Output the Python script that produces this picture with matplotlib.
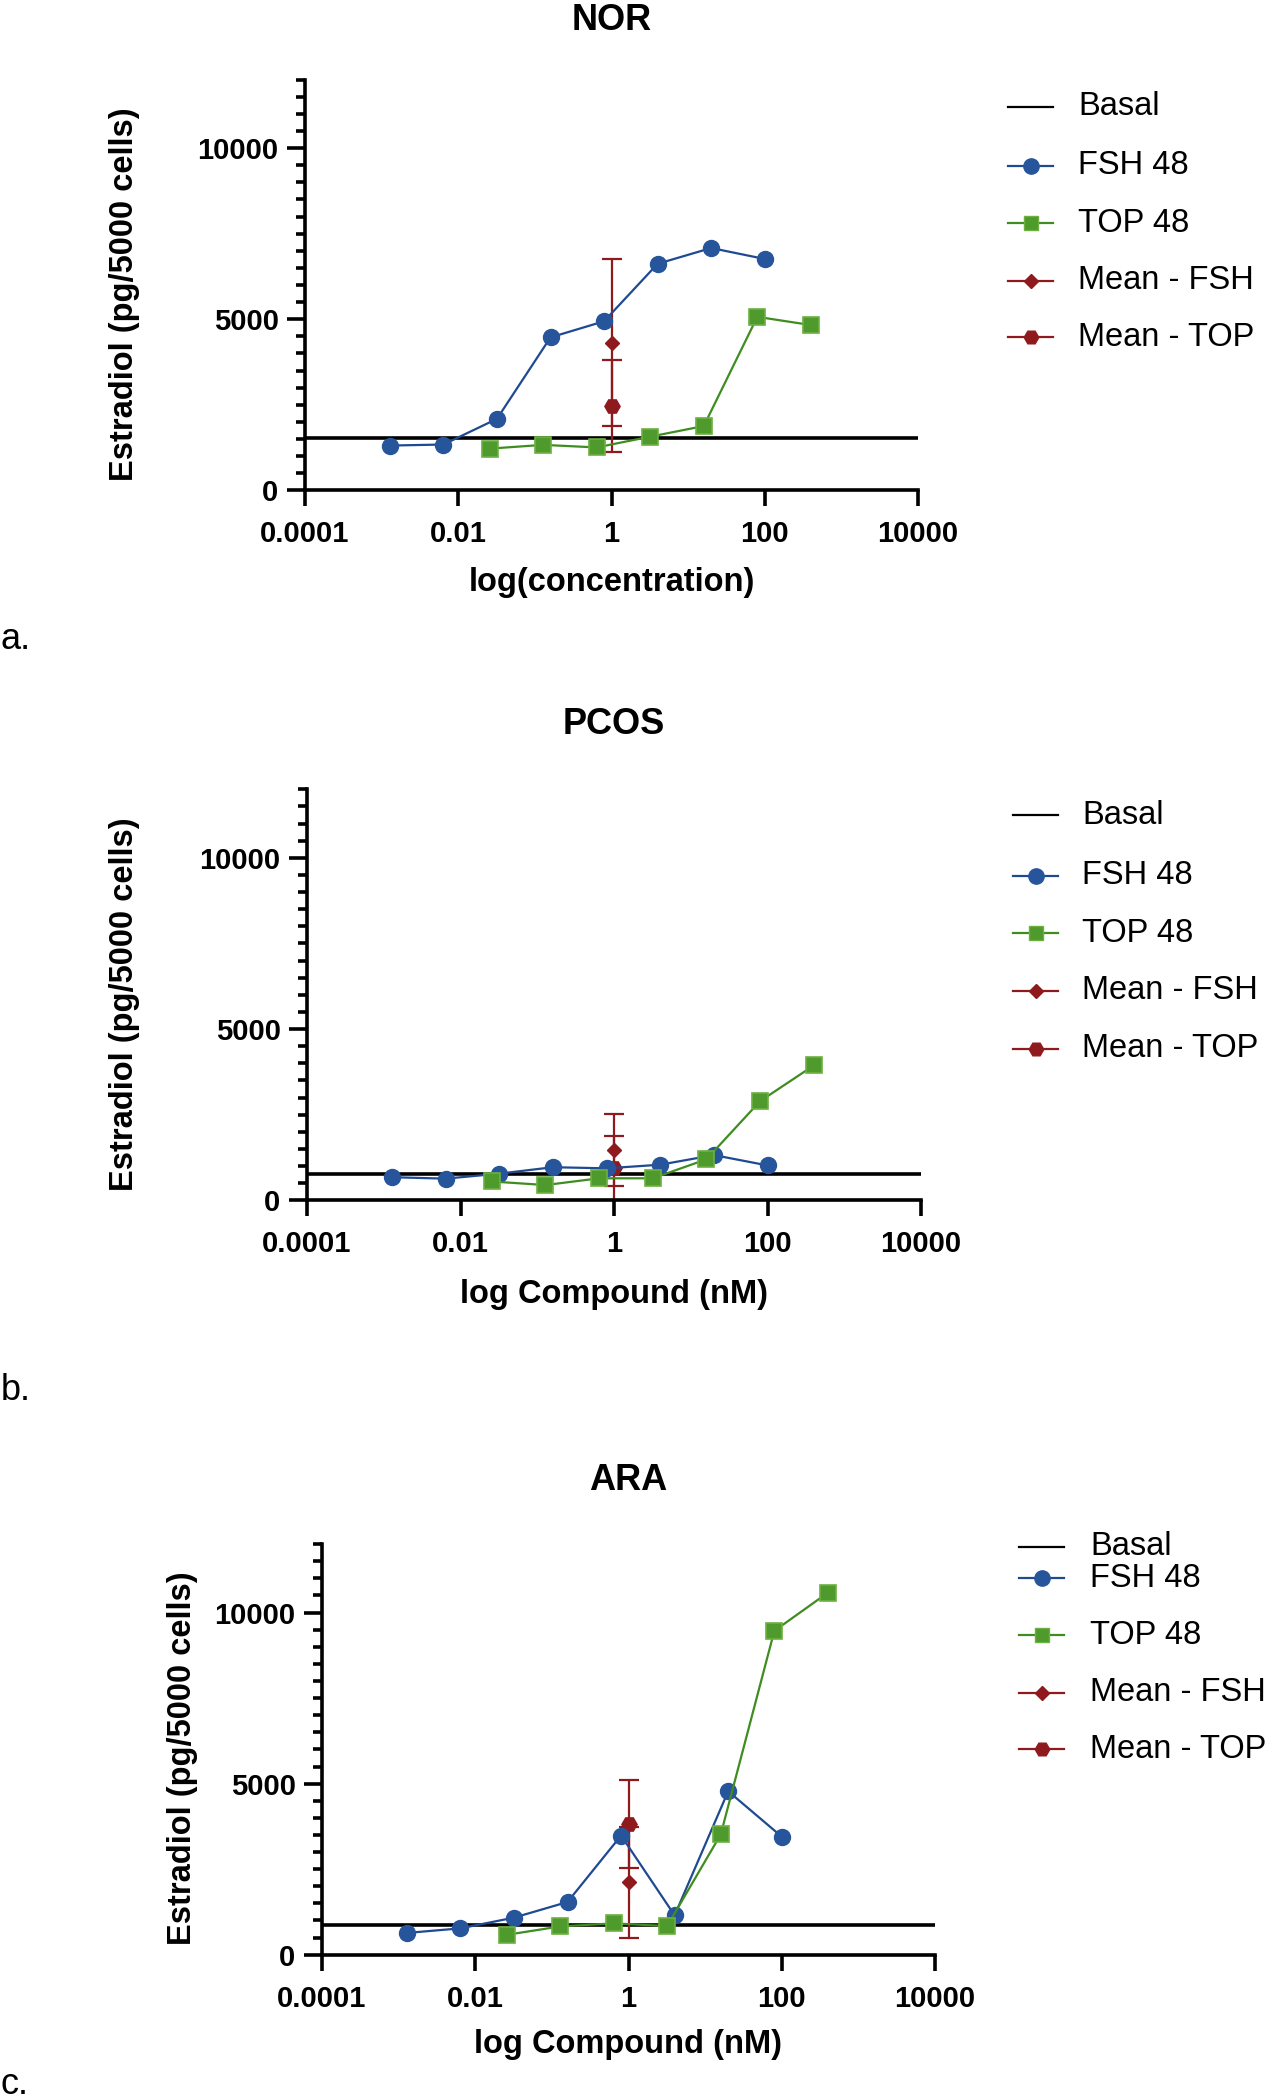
import matplotlib.pyplot as plt
from matplotlib.lines import Line2D
from matplotlib.ticker import FixedLocator, MultipleLocator, NullLocator

plt.rcParams["font.family"] = ["Liberation Sans", "DejaVu Sans"]

W, H = 1268, 2100

# concentrations (nM), 5-fold dilution series
fsh_conc = [0.00128, 0.0064, 0.032, 0.16, 0.8, 4, 20, 100]
top_conc = [0.0256, 0.128, 0.64, 3.2, 16, 80, 400]
mean_conc = 1

panel_names = ["NOR", "PCOS", "ARA"]
panel_letters = ["a.", "b.", "c."]
x_labels = ["log(concentration)", "log Compound (nM)", "log Compound (nM)"]
y_label = "Estradiol (pg/5000 cells)"

# estradiol (pg/5000 cells)
nor_fsh = [1310, 1340, 2090, 4470, 4940, 6620, 7080, 6760]
nor_top = [1220, 1330, 1255, 1570, 1880, 5070, 4830]
nor_basal = 1520
nor_mean_fsh, nor_sd_fsh = 4320, 2430
nor_mean_top, nor_sd_top = 2460, 1350

pcos_fsh = [677, 635, 781, 969, 936, 1042, 1323, 1021]
pcos_top = [552, 448, 645, 645, 1199, 2896, 3938]
pcos_basal = 770
pcos_mean_fsh, pcos_sd_fsh = 1470, 1050
pcos_mean_top, pcos_sd_top = 936, 934

ara_fsh = [636, 770, 1083, 1540, 3482, 1150, 4777, 3449]
ara_top = [580, 826, 915, 837, 3516, 9464, 10580]
ara_basal = 882
ara_mean_fsh, ara_sd_fsh = 2121, 1619
ara_mean_top, ara_sd_top = 3828, 1284

legend_labels = ["Basal", "FSH 48", "TOP 48", "Mean - FSH", "Mean - TOP"]

BLUE = "#27559b"
BLUE_LINE = "#1f4a92"
GREEN = "#4f9a2c"
GREEN_EDGE = "#6cb040"
GREEN_LINE = "#3f8d20"
RED = "#8e1a1e"


def fx(x):
    return x / W


def fy(y):
    return 1 - y / H


def make_axes(fig, left, right, top, bottom):
    ax = fig.add_axes([fx(left), fy(bottom), fx(right - left), (bottom - top) / H])
    ax.set_xscale("log")
    ax.set_xlim(1e-4, 1e4)
    ax.set_ylim(0, 12000)
    for side in ("top", "right"):
        ax.spines[side].set_visible(False)
    for side in ("left", "bottom"):
        ax.spines[side].set_linewidth(2.6)
    ax.xaxis.set_major_locator(FixedLocator([1e-4, 1e-2, 1, 1e2, 1e4]))
    ax.xaxis.set_minor_locator(NullLocator())
    ax.set_xticklabels(["0.0001", "0.01", "1", "100", "10000"])
    ax.yaxis.set_major_locator(FixedLocator([0, 5000, 10000]))
    ax.yaxis.set_minor_locator(MultipleLocator(500))
    ax.set_yticklabels(["0", "5000", "10000"])
    ax.tick_params(axis="x", which="major", length=11.5, width=2.6, pad=10,
                   labelsize=21)
    ax.tick_params(axis="y", which="major", length=13, width=2.6, pad=6,
                   labelsize=21)
    ax.tick_params(axis="y", which="minor", length=6.5, width=2.6)
    for lab in ax.get_xticklabels() + ax.get_yticklabels():
        lab.set_fontweight("bold")
    return ax


def draw_panel(ax, fsh, top, basal, m_fsh, sd_fsh, m_top, sd_top):
    ax.axhline(basal, color="black", lw=2.6, zorder=1)
    ax.errorbar([mean_conc], [m_fsh], yerr=[sd_fsh], color=RED, marker="D",
                ms=7.5, elinewidth=1.6, capsize=7, capthick=1.6, zorder=2)
    ax.errorbar([mean_conc], [m_top], yerr=[sd_top], color=RED, marker="H",
                ms=11, elinewidth=1.6, capsize=7, capthick=1.6, zorder=2)
    ax.plot(fsh_conc, fsh, color=BLUE_LINE, lw=1.6, marker="o", ms=11.5,
            mfc=BLUE, mec=BLUE, zorder=3)
    ax.plot(top_conc, top, color=GREEN_LINE, lw=1.6, marker="s", ms=11,
            mfc=GREEN, mec=GREEN_EDGE, mew=1.2, zorder=3)


def draw_legend(fig, x0, x1, xt, ys):
    styles = [
        dict(color="black", marker=None),
        dict(color=BLUE_LINE, marker="o", ms=11, mfc=BLUE, mec=BLUE),
        dict(color=GREEN_LINE, marker="s", ms=10.5, mfc=GREEN, mec=GREEN_EDGE),
        dict(color=RED, marker="D", ms=7.5, mfc=RED, mec=RED),
        dict(color=RED, marker="H", ms=10.5, mfc=RED, mec=RED),
    ]
    xm = (x0 + x1) / 2
    for label, y, st in zip(legend_labels, ys, styles):
        fig.add_artist(Line2D([fx(x0), fx(xm), fx(x1)], [fy(y)] * 3, lw=1.6,
                              markevery=[1], **st))
        fig.text(fx(xt), fy(y), label, fontsize=23.5, ha="left", va="center")


fig = plt.figure(figsize=(W / 100, H / 100), dpi=100)

layouts = [
    # left, right, top, bottom, title_y, xlabel_y, ylabel_x, ylabel_y, letter_y
    (305, 918, 79.6, 490.4, 20, 582, 124, 294, 649),
    (307, 921, 789.3, 1200.4, 725, 1294, 124, 1004, 1400),
    (322, 935, 1544.1, 1954.7, 1481, 2045, 183, 1758, 2094),
]
panels = [
    (nor_fsh, nor_top, nor_basal, nor_mean_fsh, nor_sd_fsh, nor_mean_top, nor_sd_top),
    (pcos_fsh, pcos_top, pcos_basal, pcos_mean_fsh, pcos_sd_fsh, pcos_mean_top, pcos_sd_top),
    (ara_fsh, ara_top, ara_basal, ara_mean_fsh, ara_sd_fsh, ara_mean_top, ara_sd_top),
]
legends = [
    (1008, 1053, 1078, [106.7, 166, 223, 280.7, 337]),
    (1013, 1058, 1082, [815.4, 875.7, 933.3, 990.9, 1048.5]),
    (1019, 1064, 1090, [1546.7, 1578.3, 1635, 1692.7, 1749.3]),
]

for i, (lay, data, leg) in enumerate(zip(layouts, panels, legends)):
    left, right, top, bottom, ty, xly, ylx, yly, ly = lay
    ax = make_axes(fig, left, right, top, bottom)
    draw_panel(ax, *data)
    cx = (left + right) / 2
    fig.text(fx(cx), fy(ty), panel_names[i], fontsize=26, fontweight="bold",
             ha="center", va="center")
    fig.text(fx(cx), fy(xly), x_labels[i], fontsize=23.5, fontweight="bold",
             ha="center", va="center")
    fig.text(fx(ylx), fy(yly), y_label, fontsize=23.5, fontweight="bold",
             ha="center", va="center", rotation=90)
    fig.text(fx(1), fy(ly), panel_letters[i], fontsize=26, ha="left",
             va="baseline")
    draw_legend(fig, *leg)

fig.savefig("out.png", dpi=100, facecolor="white")
